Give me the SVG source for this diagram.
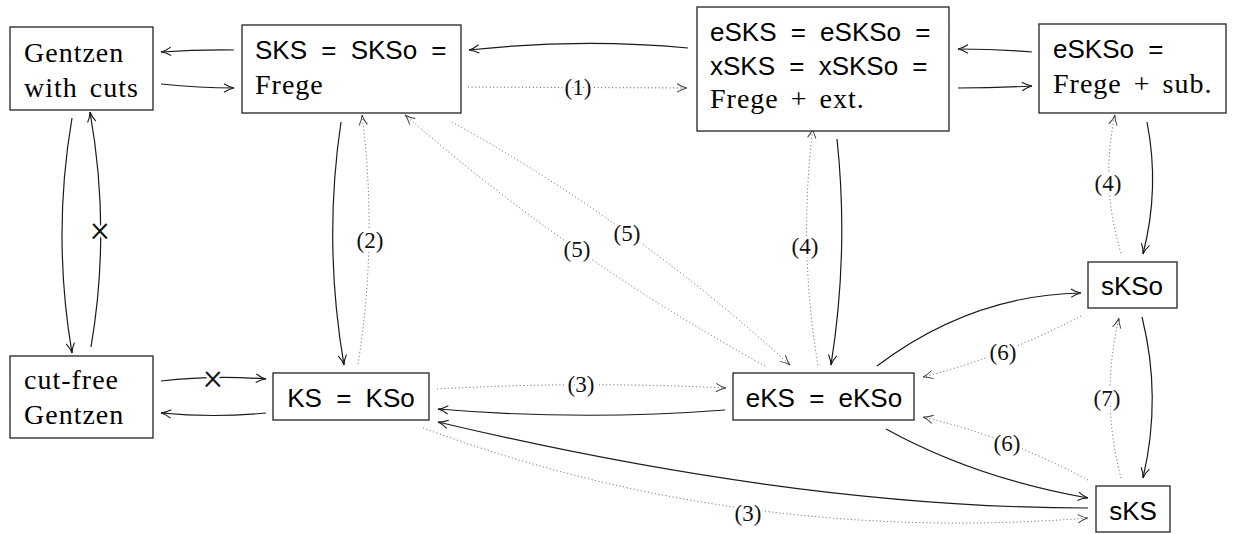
<svg xmlns="http://www.w3.org/2000/svg" width="1234" height="534" viewBox="0 0 1234 534">
<style>
.box{fill:#fff;stroke:#333;stroke-width:1.4}
.sf{font-family:"Liberation Sans",Arial,sans-serif;font-size:26px;word-spacing:7px;fill:#000}
.rm{font-family:"Liberation Serif","Times New Roman",serif;font-size:28px;letter-spacing:1px;word-spacing:4px;fill:#000}
.s{fill:none;stroke:#1a1a1a;stroke-width:1.2;marker-end:url(#ah)}
.d{fill:none;stroke:#555;stroke-width:1;stroke-dasharray:1 2.6;marker-end:url(#ahd)}
.lbl{font-family:"Liberation Serif","Times New Roman",serif;font-size:23px;fill:#111;text-anchor:middle;paint-order:stroke;stroke:#fff;stroke-width:6px;stroke-linejoin:round}
.x{font-family:Roboto,"Liberation Sans",sans-serif;font-weight:300;font-size:36px;fill:#111;text-anchor:middle;paint-order:stroke;stroke:#fff;stroke-width:5px}
</style>
<defs>
<marker id="ah" viewBox="-11 -5 12 10" refX="0" refY="0" markerWidth="12" markerHeight="10" markerUnits="userSpaceOnUse" orient="auto">
<path d="M-10,-4.2 C-6,-1.6 -2.5,-0.4 0,0 C-2.5,0.4 -6,1.6 -10,4.2" fill="none" stroke="#1a1a1a" stroke-width="1.1"/>
</marker>
<marker id="ahd" viewBox="-11 -5 12 10" refX="0" refY="0" markerWidth="12" markerHeight="10" markerUnits="userSpaceOnUse" orient="auto">
<path d="M-10,-4.2 C-6,-1.6 -2.5,-0.4 0,0 C-2.5,0.4 -6,1.6 -10,4.2" fill="none" stroke="#444" stroke-width="1"/>
</marker>
</defs>

<g id="connectors">
<path class="s" d="M234,50 Q198,49.5 161,52"/>
<path class="s" d="M161,84 Q200,88 234,88"/>
<path class="s" d="M688,48 Q580,38 469,50"/>
<path class="d" d="M468,87 L687,88"/>
<path class="s" d="M1032,52 Q995,49 958,49"/>
<path class="s" d="M958,88 Q995,88 1032,86"/>
<path class="s" d="M72,118 Q52,235 72,353"/>
<path class="s" d="M91,347 Q111,230 90,112"/>
<path class="s" d="M161,381 Q213,375 266,379"/>
<path class="s" d="M266,413 Q213,418 161,413"/>
<path class="s" d="M341,122 Q323,243 344,365"/>
<path class="d" d="M358,364 Q378,240 362,115"/>
<path class="d" d="M765,366 Q569,258 405,115"/>
<path class="d" d="M452,122 Q633,222 790,365"/>
<path class="s" d="M837,139 Q849,252 831,365"/>
<path class="d" d="M818,365 Q798,246 813,128"/>
<path class="s" d="M1147,122 Q1160,188 1143,254"/>
<path class="d" d="M1121,253 Q1100,184 1115,115"/>
<path class="s" d="M877,366 Q971,295 1081,293"/>
<path class="d" d="M1081,316 Q1003,357 923,377"/>
<path class="d" d="M1088,480 Q1008,437 923,417"/>
<path class="s" d="M1142,317 Q1162,397 1143,478"/>
<path class="d" d="M1121,478 Q1100,398 1119,318"/>
<path class="s" d="M886,429 Q975,478 1088,498"/>
<path class="s" d="M1088,508 Q800,508 438,422"/>
<path class="d" d="M423,428 Q740,545 1088,518"/>
<path class="d" d="M437,389 Q581,381 726,388"/>
<path class="s" d="M725,410 Q581,421 438,409"/>
<text class="lbl" x="578" y="95">(1)</text>
<text class="lbl" x="370" y="248">(2)</text>
<text class="lbl" x="581" y="392">(3)</text>
<text class="lbl" x="748" y="521">(3)</text>
<text class="lbl" x="805" y="254">(4)</text>
<text class="lbl" x="1108" y="191">(4)</text>
<text class="lbl" x="577" y="257">(5)</text>
<text class="lbl" x="627" y="241">(5)</text>
<text class="lbl" x="1003" y="360">(6)</text>
<text class="lbl" x="1007" y="451">(6)</text>
<text class="lbl" x="1107" y="406">(7)</text>
<text class="x" x="100" y="241">×</text>
<text class="x" x="213" y="389">×</text>
</g>

<g id="gentzen-cuts">
<rect class="box" x="10" y="27" width="143" height="83"/>
<text class="rm" x="24" y="62">Gentzen</text>
<text class="rm" x="24" y="97">with cuts</text>
</g>
<g id="sks">
<rect class="box" x="242" y="25" width="219" height="88"/>
<text class="sf" x="255" y="59">SKS = SKSo =</text>
<text class="rm" x="255" y="94">Frege</text>
</g>
<g id="esks">
<rect class="box" x="697" y="7" width="252" height="124"/>
<text class="sf" x="710" y="41">eSKS = eSKSo =</text>
<text class="sf" x="710" y="75">xSKS = xSKSo =</text>
<text class="rm" x="710" y="108">Frege + ext.</text>
</g>
<g id="eskso">
<rect class="box" x="1039" y="24" width="187" height="89"/>
<text class="sf" x="1053" y="58">eSKSo =</text>
<text class="rm" x="1053" y="93">Frege + sub.</text>
</g>
<g id="cutfree">
<rect class="box" x="10" y="356" width="143" height="82"/>
<text class="rm" x="24" y="389">cut-free</text>
<text class="rm" x="24" y="424">Gentzen</text>
</g>
<g id="ks">
<rect class="box" x="273" y="373" width="156" height="47"/>
<text class="sf" x="351" y="407" text-anchor="middle">KS = KSo</text>
</g>
<g id="eks">
<rect class="box" x="733" y="373" width="181" height="47"/>
<text class="sf" x="824" y="407" text-anchor="middle">eKS = eKSo</text>
</g>
<g id="skso">
<rect class="box" x="1088" y="262" width="89" height="46"/>
<text class="sf" x="1132" y="295" text-anchor="middle">sKSo</text>
</g>
<g id="sks-node">
<rect class="box" x="1096" y="486" width="74" height="46"/>
<text class="sf" x="1133" y="520" text-anchor="middle">sKS</text>
</g>
</svg>
